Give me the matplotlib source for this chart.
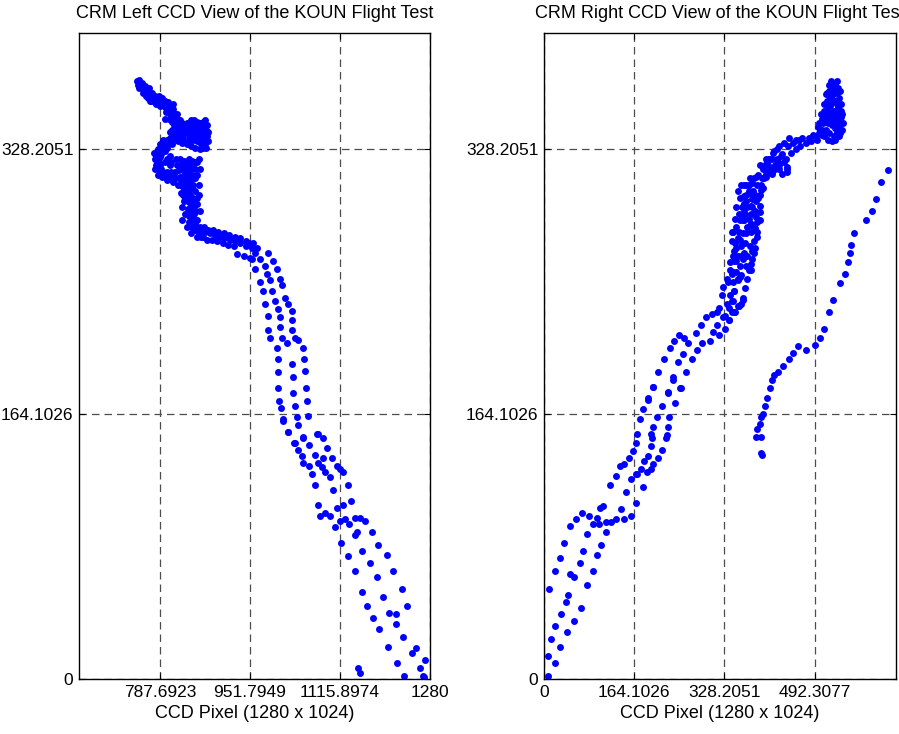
'''
Two CCD views of the KOUN flight test track (CRM left / right camera)
'''
import numpy as np
import matplotlib
matplotlib.use('Agg')
import matplotlib.pyplot as plt

plt.rcParams['font.family'] = ['Liberation Sans', 'DejaVu Sans']

#Tick values (CCD pixel units) and their printed labels
left_xticks = [787.6923, 951.7949, 1115.8974, 1280]
left_xlabels = ['787.6923', '951.7949', '1115.8974', '1280']
right_xticks = [0, 164.1026, 328.2051, 492.3077]
right_xlabels = ['0', '164.1026', '328.2051', '492.3077']
yticks = [0, 164.1026, 328.2051]
ylabels = ['0', '164.1026', '328.2051']
left_xlim = (640, 1280)
right_xlim = (0, 640)
ylim = (0, 400)

#Left camera - the tangled start of the track (several passes)
left_blob_a = [(746, 370), (752, 368), (758, 366), (764, 364), (769, 362), (775, 360), (781, 359),
               (787, 358), (793, 358), (799, 356), (805, 354), (811, 353), (815, 350), (819, 347),
               (822, 344), (826, 342), (830, 341), (836, 342), (842, 343), (848, 344), (855, 345),
               (861, 343), (866, 341), (870, 338), (872, 334), (868, 332), (862, 331), (855, 333),
               (848, 334), (840, 334), (830, 336), (824, 337), (815, 336), (806, 335), (800, 334),
               (793, 333), (788, 331), (784, 328), (782, 325), (782, 321), (784, 318), (787, 315),
               (793, 314), (800, 314), (808, 314), (815, 314), (822, 315), (830, 316), (836, 315),
               (842, 316), (846, 312), (843, 308), (838, 306), (832, 304), (836, 301), (842, 300),
               (848, 298), (855, 298), (851, 294), (846, 291), (846, 287), (848, 285), (852, 282),
               (855, 279), (862, 278), (870, 277), (878, 276), (888, 275), (897, 274), (905, 273),
               (915, 272), (925, 271), (934, 270), (945, 268), (955, 267), (964, 267)]
left_blob_b = [(750, 366), (757, 363), (765, 360), (772, 358), (780, 356), (788, 355), (796, 354),
               (804, 352), (810, 349), (816, 345), (820, 342), (826, 339), (834, 339), (842, 340),
               (850, 341), (858, 340), (864, 337), (866, 333), (860, 328), (852, 329), (844, 330),
               (836, 331), (828, 332), (820, 333), (810, 331), (800, 329), (792, 327), (788, 323),
               (788, 318), (792, 311), (800, 309), (808, 310), (816, 310), (824, 311), (832, 312),
               (838, 311), (836, 307), (828, 305), (826, 301), (834, 297), (842, 295), (850, 293),
               (842, 290), (840, 287), (845, 283), (850, 280), (858, 276), (866, 274), (874, 272),
               (882, 272), (892, 271), (902, 270), (912, 269), (922, 268), (928, 263), (940, 262),
               (952, 261), (960, 264)]
left_blob_c = [(748, 368), (756, 366), (762, 361), (770, 358), (778, 357), (790, 360), (796, 356),
               (802, 357), (808, 350), (812, 356), (818, 350), (810, 345), (818, 341), (824, 346),
               (828, 344), (832, 338), (840, 337), (846, 338), (852, 337), (858, 336), (864, 344),
               (868, 342), (872, 340), (874, 336), (870, 330), (864, 335), (858, 338), (850, 346),
               (844, 346), (834, 333), (826, 334), (818, 334), (810, 333), (802, 331), (796, 331),
               (790, 329), (786, 326), (780, 324), (786, 320), (780, 318), (790, 316), (796, 312),
               (802, 311), (806, 318), (812, 312), (818, 318), (826, 318), (834, 318), (840, 319),
               (848, 317), (852, 316), (856, 320), (852, 310), (848, 306), (840, 303), (834, 306),
               (844, 304), (830, 300), (838, 296), (844, 294), (838, 291), (832, 296), (852, 302),
               (858, 300), (856, 294), (846, 296), (850, 288), (856, 284), (840, 283), (846, 280),
               (852, 278), (860, 280), (868, 280), (876, 278), (884, 278), (894, 277), (904, 276),
               (914, 275), (924, 274), (934, 273), (944, 271), (950, 270), (958, 270)]
left_blob_d = [(749, 371), (755, 369), (761, 367), (767, 366), (773, 363), (779, 361), (785, 361),
               (791, 360), (797, 358), (803, 356), (800, 352), (806, 350), (812, 348), (808, 346),
               (814, 343), (820, 340), (824, 338), (816, 338), (810, 340), (804, 347), (798, 351),
               (796, 347), (836, 344), (844, 344), (852, 343), (860, 344), (866, 345), (870, 346),
               (874, 343), (876, 339), (876, 333), (872, 329), (866, 329), (860, 334), (854, 340),
               (848, 336), (862, 339), (868, 336), (776, 326), (778, 322), (778, 316), (784, 312),
               (790, 313), (784, 323), (790, 325), (796, 327), (796, 320), (800, 322), (806, 324),
               (794, 334), (806, 339), (812, 336), (808, 320), (816, 322), (824, 322), (832, 321),
               (840, 322), (846, 321), (852, 320), (858, 322), (812, 308), (820, 306), (826, 308),
               (834, 310), (842, 312), (848, 310), (856, 312), (860, 316), (858, 306), (828, 292),
               (834, 288), (828, 284), (836, 280), (844, 276), (856, 274), (862, 274), (854, 290),
               (860, 290), (832, 300)]

#Left camera - the parallel passes heading down to the lower right
left_tracks = [(955, 260), (961, 254), (970, 246), (975, 240), (979, 232), (985, 225), (985, 216),
               (988, 211), (1001, 205), (1003, 198), (1003, 190), (1003, 180), (1005, 172),
               (1008, 168), (1012, 161), (1021, 153), (1034, 146),
               (970, 260), (979, 256), (983, 251), (988, 247), (992, 240), (997, 234), (1003, 229),
               (1006, 224), (1006, 218), (1010, 211), (1019, 208), (1028, 195), (1030, 187),
               (1030, 177), (1034, 169), (1037, 162), (1039, 157), (1048, 149),
               (985, 264), (994, 259), (1001, 254), (1006, 248), (1010, 244), (1016, 236),
               (1021, 232), (1028, 228), (1028, 222), (1028, 216), (1034, 211), (1039, 210),
               (1048, 205), (1050, 198), (1052, 191), (1054, 180), (1056, 172), (1057, 163),
               (1074, 152), (1085, 149), (1092, 143),
               (1012, 160), (1021, 153), (1048, 150), (1076, 152), (1032, 146), (1059, 145),
               (1039, 142), (1070, 139), (1047, 138), (1085, 137), (1101, 137), (1076, 134),
               (1048, 134), (1059, 132), (1083, 131), (1110, 132), (1116, 130), (1121, 128),
               (1088, 128), (1065, 127), (1097, 125), (1070, 120), (1130, 120), (1103, 117),
               (1076, 108), (1121, 108), (1136, 110), (1110, 106), (1088, 103), (1079, 101),
               (1097, 101), (1116, 98), (1125, 99), (1132, 96), (1143, 100), (1152, 100),
               (1161, 98), (1107, 94), (1143, 89), (1147, 91), (1174, 91), (1118, 84), (1185, 83),
               (1130, 76), (1156, 79), (1201, 77), (1170, 72), (1143, 67), (1212, 67), (1183, 63),
               (1229, 56), (1156, 54), (1194, 51), (1238, 45), (1165, 45), (1205, 41), (1218, 40),
               (1176, 38), (1218, 34), (1187, 31), (1231, 26), (1203, 20), (1254, 19), (1247, 16),
               (1271, 12), (1220, 10), (1262, 7), (1149, 7), (1152, 4), (1232, 2), (1267, 2),
               (1269, 1)]

#Right camera - the passes climbing from the lower left
right_tracks = [(7, 2), (20, 10), (7, 14), (29, 20), (13, 25), (42, 29), (20, 33), (54, 36), (31, 40),
                (67, 44), (40, 48), (43, 52), (9, 56), (78, 58), (54, 63), (47, 65), (89, 67),
                (20, 67), (65, 72), (29, 75), (96, 77), (71, 79), (103, 83), (36, 84), (78, 90),
                (112, 91), (47, 95), (89, 96), (100, 96), (58, 99), (69, 103), (82, 101), (96, 100),
                (112, 97), (122, 97), (131, 99), (145, 99), (158, 101), (140, 105), (102, 106),
                (107, 107), (167, 109), (150, 116), (120, 120), (180, 119), (158, 124), (131, 126),
                (167, 127), (169, 127), (176, 130), (187, 128), (194, 130), (199, 133), (181, 135),
                (138, 132), (145, 133), (154, 137), (189, 138), (161, 141), (194, 144), (208, 137),
                (214, 142), (167, 146), (169, 152), (194, 152), (196, 149), (221, 149), (223, 151),
                (199, 156), (225, 156), (174, 161), (205, 162), (228, 162), (180, 167), (214, 169),
                (239, 171), (189, 173), (225, 177), (199, 181), (248, 180), (234, 185),
                (189, 174), (198, 181), (225, 178), (208, 190), (234, 187), (250, 180), (219, 198),
                (243, 196), (259, 190), (230, 205), (237, 209), (245, 213), (254, 211), (252, 201),
                (270, 198), (277, 214), (261, 208), (279, 204), (288, 208), (286, 219), (294, 224),
                (305, 226), (314, 227), (319, 230), (315, 219), (308, 215), (319, 213), (301, 209),
                (330, 217), (326, 224), (337, 222), (341, 227), (348, 227), (352, 231), (359, 232),
                (361, 236), (343, 234), (346, 240), (366, 242), (323, 238), (326, 243), (332, 248),
                (339, 253), (352, 247), (357, 249), (370, 248), (373, 253), (368, 256), (377, 253)]

#Right camera - the dense bend and the upper knot
right_blob = [(341, 277), (341, 271), (346, 265), (350, 259), (355, 277), (368, 276), (377, 277),
              (384, 279), (388, 274), (382, 264), (379, 260), (384, 267), (352, 273), (364, 264),
              (361, 284), (377, 282), (388, 283), (363, 289), (377, 288), (392, 289), (363, 294),
              (379, 292), (392, 293), (364, 299), (379, 297), (368, 306), (382, 310), (395, 306),
              (404, 313), (343, 277), (350, 267), (346, 259), (341, 251), (346, 240), (341, 234),
              (346, 227), (337, 222), (361, 235), (355, 231), (352, 248), (359, 250), (377, 257),
              (379, 265), (382, 271), (388, 277), (392, 284), (361, 288), (364, 294), (377, 293),
              (364, 284), (377, 282), (368, 300), (379, 300), (392, 300), (364, 306), (379, 307),
              (395, 303), (386, 311), (404, 311), (415, 314), (410, 322), (424, 322), (433, 325),
              (428, 316), (441, 317), (442, 314),
              (330, 225), (336, 230), (344, 246), (350, 252), (356, 256), (362, 260), (370, 262),
              (374, 268), (366, 270), (358, 268), (350, 280), (356, 284), (350, 292), (356, 298),
              (370, 292), (372, 285), (384, 290), (386, 296), (372, 302), (380, 302), (388, 306),
              (374, 310), (390, 312), (398, 316), (408, 318), (396, 310), (420, 318), (426, 320),
              (436, 320), (450, 326), (458, 328), (466, 330), (476, 332), (486, 333), (496, 334),
              (444, 330), (452, 332), (464, 334),
              (333, 232), (338, 238), (335, 246), (344, 252), (338, 258), (344, 262), (352, 262),
              (358, 262), (348, 270), (356, 272), (362, 276), (348, 285), (354, 288), (360, 292),
              (368, 296), (352, 302), (358, 306), (372, 306), (384, 300), (390, 298), (386, 286),
              (380, 280), (370, 280), (366, 288), (398, 304), (400, 310), (392, 318), (404, 318),
              (412, 316), (420, 316), (428, 318), (416, 326), (424, 328), (404, 322),
              (518, 368), (529, 368), (515, 363), (537, 360), (524, 359), (509, 356), (518, 351),
              (513, 350), (506, 347), (500, 344), (524, 343), (531, 345), (537, 342), (533, 339),
              (518, 338), (506, 337), (524, 333), (533, 356), (495, 336), (482, 335), (470, 335),
              (459, 334), (446, 335), (437, 332), (428, 330), (419, 327), (410, 322), (404, 319),
              (415, 322), (431, 324), (440, 322), (442, 316), (433, 313), (415, 313), (406, 314),
              (522, 365), (526, 362), (520, 355), (528, 352), (534, 350), (540, 348), (538, 338),
              (528, 336), (512, 340), (516, 344), (530, 341), (522, 347), (510, 352), (526, 357),
              (532, 363), (505, 340), (512, 345), (520, 348), (528, 346), (536, 344), (534, 354),
              (526, 366), (520, 360), (514, 358), (530, 358), (540, 352), (508, 344), (500, 338),
              (490, 337), (512, 362), (518, 364), (522, 370), (532, 370), (534, 366), (538, 364),
              (540, 356), (542, 350), (544, 344), (542, 340), (536, 336), (530, 334), (516, 334),
              (510, 336), (502, 340), (498, 342), (516, 354), (524, 350), (530, 349), (536, 348),
              (510, 348), (504, 350), (514, 346)]

#Right camera - the separate branch on the right
right_branch = [(395, 140), (397, 139), (386, 150), (395, 150), (388, 155), (392, 158), (395, 162),
                (399, 164), (402, 169), (406, 174), (411, 180), (415, 185), (419, 188), (426, 190),
                (435, 194), (446, 198), (453, 202), (462, 206), (477, 204), (493, 207), (502, 211),
                (509, 217), (518, 227), (526, 235), (538, 245), (547, 251), (553, 258), (557, 264),
                (558, 269), (564, 276), (586, 284), (596, 290), (604, 297), (613, 308), (625, 315)]


def style_axis(ax, xticks, xlabels, xlim, title):
    '''
    MATLAB-ish look: boxed axes, dashed grid, inward ticks
    '''
    ax.set_xlim(xlim)
    ax.set_ylim(ylim)
    ax.set_xticks(xticks)
    ax.set_xticklabels(xlabels)
    ax.set_yticks(yticks)
    ax.set_yticklabels(ylabels)
    ax.grid(True, color='#4d4d4d', linestyle=(0, (6, 4)), linewidth=0.9)
    ax.tick_params(direction='in', length=4, width=0.8, labelsize=12.5, pad=4,
                   top=True, right=True)
    for sp in ax.spines.values():
        sp.set_linewidth(1.0)
        sp.set_color('black')
    ax.set_title(title, fontsize=13, pad=10.5)
    ax.set_xlabel('CCD Pixel (1280 x 1024)', fontsize=13, labelpad=4)
    return ax


def dots(ax, pts):
    pts = np.array(pts, dtype=float)
    ax.plot(pts[:, 0], pts[:, 1], 'o', color='#0000ff', markersize=5.0,
            markeredgewidth=0, linestyle='none')


fig = plt.figure(figsize=(8.99, 7.34), dpi=100)
ax1 = fig.add_axes([0.0879, 0.0749, 0.3904, 0.8801])
ax2 = fig.add_axes([0.6051, 0.0749, 0.3915, 0.8801])

for pts in (left_blob_a, left_blob_b, left_blob_c, left_blob_d, left_tracks):
    dots(ax1, pts)
for pts in (right_tracks, right_blob, right_branch):
    dots(ax2, pts)

style_axis(ax1, left_xticks, left_xlabels, left_xlim, 'CRM Left CCD View of the KOUN Flight Test')
style_axis(ax2, right_xticks, right_xlabels, right_xlim, 'CRM Right CCD View of the KOUN Flight Test')

fig.savefig('out.png', dpi=100)
